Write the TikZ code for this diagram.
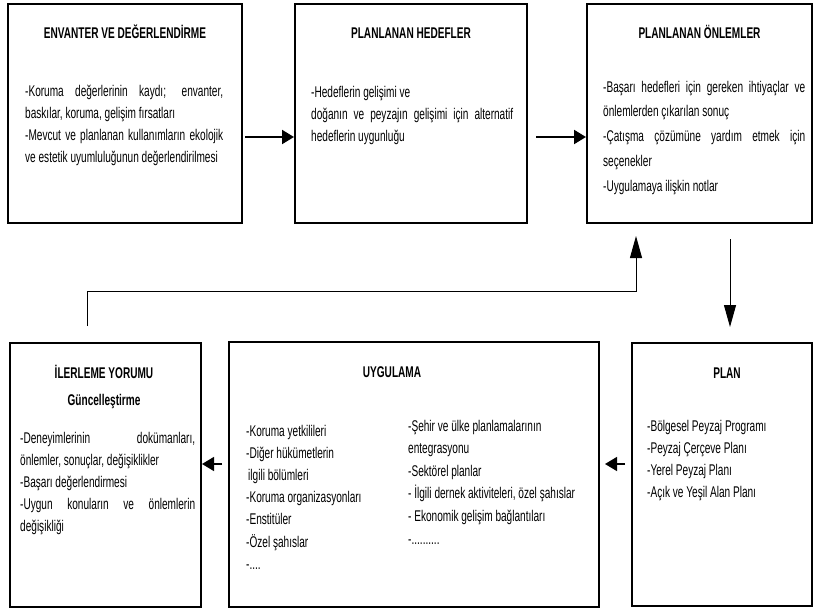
\documentclass[tikz,border=0pt]{standalone}
\usepackage{fontspec}
\setmainfont{Liberation Sans}[FakeStretch=0.65]
\usetikzlibrary{arrows.meta}
\newcommand{\jline}[2]{\makebox[#1][s]{#2}}
\newcommand{\fourdots}{-....}
\newcommand{\tendots}{-..........}
\tikzset{
  box/.style={draw=black, line width=2pt, fill=white, rectangle, inner sep=0pt},
  ttl/.style={font=\bfseries\fontsize{15.5}{18}\selectfont, anchor=base, inner sep=0pt},
  txt/.style={font=\fontsize{15.5}{18}\selectfont, anchor=base west, inner sep=0pt},
  bigarr/.style={line width=2pt, -{Triangle[length=12pt,width=14pt]}},
  midarr/.style={line width=1.5pt, -{Triangle[length=12pt,width=14pt]}},
  thinarr/.style={line width=1pt, -{Triangle[length=22pt,width=12pt]}}
}
\begin{document}
\begin{tikzpicture}[x=1pt,y=-1pt]
\useasboundingbox (0,0) rectangle (816,613);
\fill[white] (0,0) rectangle (816,613);

% boxes
\node[box, minimum width=234pt, minimum height=219pt] (inv) at (125,113.5) {};
\node[box, minimum width=232pt, minimum height=219pt] (goal) at (411,113.5) {};
\node[box, minimum width=225pt, minimum height=219pt] (meas) at (699.5,113.5) {};
\node[box, minimum width=191pt, minimum height=264pt] (prog) at (105.5,475) {};
\node[box, minimum width=370pt, minimum height=265pt] (impl) at (414,474.5) {};
\node[box, minimum width=180pt, minimum height=263pt] (plan) at (722,474.5) {};

% titles
\node[ttl] (invt) at (125,38) {ENVANTER VE DEĞERLENDİRME};
\node[ttl] (goalt) at (411,38) {PLANLANAN HEDEFLER};
\node[ttl] (meast) at (699.5,38) {PLANLANAN ÖNLEMLER};
\node[ttl] (progt) at (104,378) {İLERLEME YORUMU};
\node[ttl] (progt2) at (104,405) {Güncelleştirme};
\node[ttl] (implt) at (392,377) {UYGULAMA};
\node[ttl] (plant) at (727,378) {PLAN};

% bodies
\foreach \t [count=\i] in {
  {\jline{198pt}{-Koruma değerlerinin kaydı; envanter,}},
  {baskılar, koruma, gelişim fırsatları},
  {\jline{198pt}{-Mevcut ve planlanan kullanımların ekolojik}},
  {ve estetik uyumluluğunun değerlendirilmesi}}
  \node[txt] (invb\i) at (25,{96+22*(\i-1)}) {\t};

\foreach \t [count=\i] in {
  {-Hedeflerin gelişimi ve},
  {\jline{202pt}{doğanın ve peyzajın gelişimi için alternatif}},
  {hedeflerin uygunluğu}}
  \node[txt] (goalb\i) at (311,{97+22*(\i-1)}) {\t};

\foreach \t [count=\i] in {
  {\jline{202pt}{-Başarı hedefleri için gereken ihtiyaçlar ve}},
  {önlemlerden çıkarılan sonuç},
  {\jline{202pt}{-Çatışma çözümüne yardım etmek için}},
  {seçenekler},
  {-Uygulamaya ilişkin notlar}}
  \node[txt] (measb\i) at (603,{92+24.8*(\i-1)}) {\t};

\foreach \t [count=\i] in {
  {\jline{175pt}{-Deneyimlerinin dokümanları,}},
  {önlemler, sonuçlar, değişiklikler},
  {-Başarı değerlendirmesi},
  {\jline{175pt}{-Uygun konuların ve önlemlerin}},
  {değişikliği}}
  \node[txt] (progb\i) at (20,{443+22.2*(\i-1)}) {\t};

\foreach \t [count=\i] in {
  {-Koruma yetkilileri},
  {-Diğer hükümetlerin},
  {\hspace{2pt}ilgili bölümleri},
  {-Koruma organizasyonları},
  {-Enstitüler},
  {-Özel şahıslar},
  {\fourdots}}
  \node[txt] (impla\i) at (246,{436+22.2*(\i-1)}) {\t};

\foreach \t [count=\i] in {
  {-Şehir ve ülke planlamalarının},
  {entegrasyonu},
  {-Sektörel planlar},
  {- İlgili dernek aktiviteleri, özel şahıslar},
  {- Ekonomik gelişim bağlantıları},
  {\tendots}}
  \node[txt] (implb\i) at (408,{431+22.6*(\i-1)}) {\t};

\foreach \t [count=\i] in {
  {-Bölgesel Peyzaj Programı},
  {-Peyzaj Çerçeve Planı},
  {-Yerel Peyzaj Planı},
  {-Açık ve Yeşil Alan Planı}}
  \node[txt] (planb\i) at (647,{431+22*(\i-1)}) {\t};

% connector helpers
\coordinate (ya) at (0,137);
\coordinate (yb) at (0,464);
\coordinate (fb1) at (87,291);
\coordinate (fb2) at (636,291);
\coordinate (dnx) at (730,0);

% connectors
\draw[bigarr, shorten <=2pt] (inv.east |- ya) -- (goal.west |- ya);
\draw[bigarr, shorten <=8pt] (goal.east |- ya) -- (meas.west |- ya);
\draw[thinarr, shorten >=15pt, shorten <=15pt] (meas.south -| dnx) -- (plan.north -| dnx);
\draw[midarr, shorten <=6pt, shorten >=5pt] (plan.west |- yb) -- (impl.east |- yb);
\draw[midarr, shorten <=6pt] (impl.west |- yb) -- (prog.east |- yb);
\draw[thinarr, shorten <=16pt, shorten >=12pt] (prog.north -| fb1) -- (fb1) -- (fb2) -- (meas.south -| fb2);
\end{tikzpicture}
\end{document}
